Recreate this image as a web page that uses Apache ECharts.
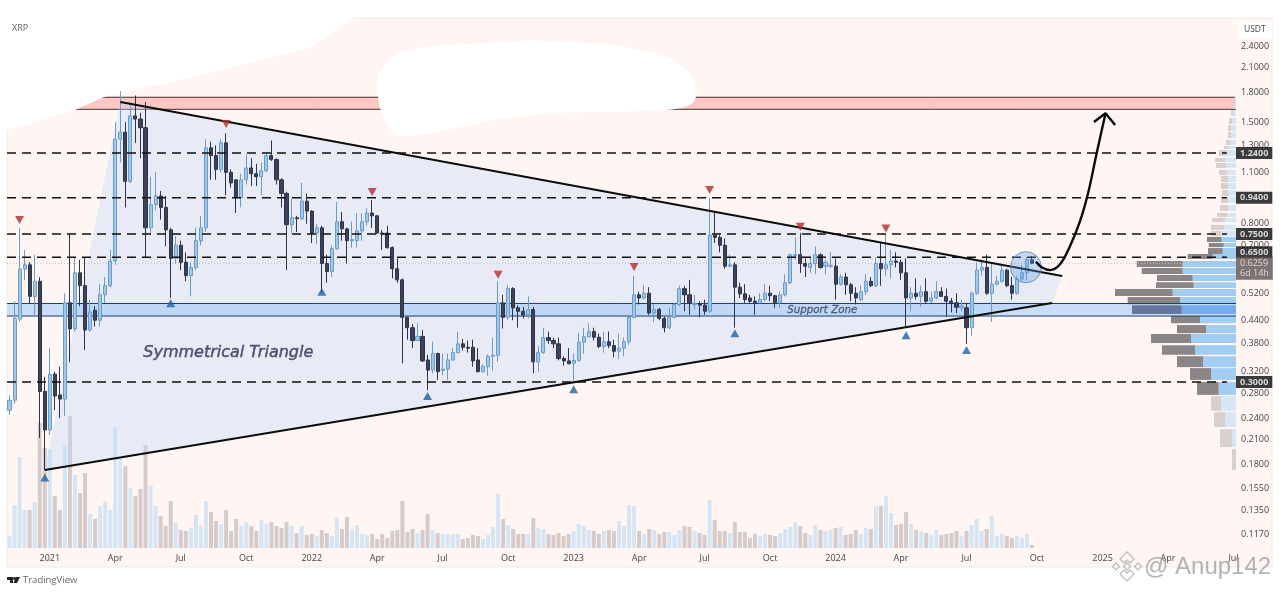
<!DOCTYPE html>
<html><head><meta charset="utf-8">
<style>html,body{margin:0;padding:0;background:#fff}#c{width:1280px;height:592px}</style>
<script src="https://cdn.jsdelivr.net/npm/echarts@6/dist/echarts.min.js"></script>
</head><body><div id="c"></div>
<script>
const opens=[.252,.268,.443,.604,.62,.51,.56,.283,.223,.315,
.277,.27,.49,.417,.59,.545,.414,.468,.44,.515,
.545,.635,1.35,1.41,1.04,1.56,1.53,1.45,.78,.90,
.95,.885,.77,.645,.7,.63,.58,.61,.72,.78,
1.28,1.22,1.12,1.32,1.1,1.05,.94,1.05,1.13,1.09,
1.07,1.11,1.22,1.19,1.05,.965,.795,.83,.825,.92,
.865,.755,.78,.625,.595,.685,.81,.775,.72,.72,
.765,.81,.855,.84,.755,.755,.69,.605,.565,.448,
.42,.388,.398,.344,.323,.358,.322,.325,.344,.36,
.38,.372,.372,.344,.32,.33,.352,.354,.49,.448,
.535,.475,.465,.455,.47,.34,.36,.395,.388,.38,
.347,.342,.337,.343,.384,.397,.41,.396,.374,.385,
.376,.363,.37,.385,.448,.515,.505,.52,.46,.47,
.445,.42,.448,.485,.535,.515,.485,.488,.483,.465,
.745,.735,.7,.615,.62,.54,.518,.505,.495,.49,
.5,.52,.512,.49,.515,.555,.655,.66,.625,.61,
.625,.66,.615,.615,.615,.55,.575,.548,.52,.5,
.525,.56,.545,.625,.605,.62,.635,.63,.59,.505,
.52,.51,.525,.495,.505,.525,.51,.495,.49,.475,
.475,.42,.52,.6,.61,.52,.55,.56,.6,.545,
.52,.568,.59,.64];
const closes=[.268,.445,.604,.62,.51,.56,.283,.223,.315,.275,
.27,.49,.417,.59,.545,.414,.463,.44,.515,.545,
.635,1.35,1.41,1.04,1.56,1.53,1.45,.78,.90,.95,
.885,.77,.645,.7,.63,.58,.61,.72,.78,1.28,
1.22,1.12,1.32,1.1,1.03,.94,1.05,1.13,1.09,1.07,
1.11,1.22,1.19,1.05,.965,.795,.83,.825,.92,.865,
.755,.78,.625,.595,.685,.81,.775,.72,.725,.765,
.81,.855,.84,.755,.75,.69,.605,.565,.448,.42,
.388,.398,.342,.323,.358,.32,.325,.344,.36,.38,
.372,.37,.342,.32,.33,.352,.354,.49,.448,.535,
.475,.465,.455,.47,.34,.36,.395,.388,.38,.347,
.342,.336,.343,.384,.397,.41,.396,.374,.385,.376,
.363,.37,.385,.448,.515,.505,.52,.46,.47,.445,
.42,.448,.485,.535,.515,.49,.488,.483,.465,.745,
.735,.70,.615,.62,.54,.518,.50,.495,.49,.50,
.52,.512,.49,.515,.555,.66,.66,.625,.615,.625,
.66,.61,.63,.618,.55,.575,.548,.52,.505,.525,
.56,.545,.625,.605,.62,.635,.63,.59,.505,.52,
.51,.525,.495,.505,.525,.51,.495,.49,.477,.48,
.42,.52,.6,.61,.52,.55,.56,.6,.545,.52,
.568,.59,.64,.626];
const lows=[.245,.262,.435,.564,.487,.45,.212,.174,.216,.252,
.24,.243,.339,.41,.48,.366,.41,.423,.423,.49,
.54,.62,1.17,.885,1.03,1.32,1.2,.65,.75,.87,
.82,.695,.505,.625,.6,.56,.51,.6,.7,.76,
1.05,1.05,1.1,.955,1,.855,.885,1.02,1.01,1.01,
.955,1.1,1.18,1.02,.885,.6,.755,.76,.82,.8,
.71,.705,.522,.555,.575,.68,.72,.625,.69,.69,
.72,.79,.78,.75,.68,.685,.57,.555,.337,.39,
.37,.387,.34,.285,.317,.304,.313,.304,.342,.358,
.365,.36,.33,.318,.318,.312,.322,.34,.418,.44,
.44,.42,.445,.445,.317,.32,.357,.38,.37,.343,
.332,.335,.302,.34,.357,.395,.388,.37,.36,.37,
.35,.346,.352,.378,.445,.485,.5,.455,.435,.44,
.408,.416,.445,.48,.465,.455,.47,.448,.455,.46,
.71,.67,.605,.61,.42,.505,.49,.49,.455,.488,
.495,.495,.475,.475,.51,.55,.64,.59,.575,.59,
.585,.605,.585,.607,.5,.545,.515,.495,.485,.495,
.515,.54,.54,.545,.58,.57,.61,.565,.42,.465,
.5,.478,.49,.49,.5,.508,.45,.462,.46,.465,
.38,.4,.515,.58,.515,.435,.545,.555,.54,.5,
.515,.56,.565,.622];
const highs=[.276,.495,.78,.68,.63,.66,.574,.31,.37,.32,
.33,.52,.75,.65,.64,.65,.5,.48,.55,.575,
.68,1.5,1.82,1.5,1.68,1.77,1.59,1.7,1.07,1.1,
.98,.95,.78,.74,.72,.67,.63,.78,.84,1.35,
1.33,1.3,1.35,1.4,1.12,1.05,1.09,1.23,1.2,1.16,
1.17,1.25,1.34,1.2,1.06,.975,.935,.84,1.03,.965,
.87,.8,.79,.66,.7,.915,.86,.78,.81,.855,
.855,.88,.926,.845,.77,.79,.695,.645,.57,.45,
.43,.432,.414,.355,.385,.36,.358,.358,.37,.41,
.392,.388,.39,.37,.335,.356,.395,.56,.515,.548,
.54,.482,.478,.51,.478,.375,.42,.41,.395,.395,
.352,.37,.358,.407,.42,.432,.42,.405,.41,.41,
.39,.405,.395,.45,.58,.525,.548,.54,.485,.475,
.45,.475,.49,.545,.545,.565,.515,.495,.5,.94,
.86,.745,.73,.66,.63,.555,.55,.515,.51,.52,
.55,.545,.515,.525,.585,.665,.735,.755,.645,.65,
.695,.665,.64,.67,.645,.585,.59,.555,.54,.545,
.585,.575,.65,.71,.75,.68,.67,.64,.645,.54,
.57,.545,.57,.525,.56,.54,.535,.505,.52,.5,
.49,.525,.63,.64,.66,.63,.58,.62,.605,.575,
.58,.62,.65,.655];
const volumes=[12,43,91,38,38,46,125,100,99,52,
38,103,132,73,55,75,34,29,42,46,
38,121,89,82,60,52,59,103,63,42,
32,22,47,25,18,17,20,33,22,47,
36,27,24,38,17,29,22,26,22,17,
28,24,26,22,20,26,22,15,22,13,
14,12,18,15,12,30,19,31,19,23,
14,13,14,9,14,10,17,18,47,16,
19,15,18,34,18,15,14,14,14,14,
9,10,13,12,9,13,21,54,29,23,
19,14,14,14,30,20,19,14,13,15,
12,14,17,24,22,18,17,14,17,18,
17,27,22,43,42,17,14,19,18,14,
16,16,13,18,22,21,17,15,13,48,
28,17,17,15,26,16,16,10,14,12,
14,13,12,15,19,21,26,22,15,13,
23,18,17,18,20,21,13,14,18,14,
20,19,42,42,52,35,23,24,36,24,
18,17,15,13,18,13,14,15,17,12,
17,23,29,17,19,32,12,14,12,10,
12,10,14,3];
const weekCount=244;
const categories=[];
for(let i=0;i<weekCount;i++){const d=new Date(Date.UTC(2020,10,9+7*i));categories.push(d.toISOString().slice(0,10));}
const tickWeeks=[8,21,34,47,60,73,86,99,112,125,138,151,164,177,190,204,217,230,243];
const tickLabels=['2021','Apr','Jul','Oct','2022','Apr','Jul','Oct','2023','Apr','Jul','Oct','2024','Apr','Jul','Oct','2025','Apr','Jul'];
const priceTicks=[2.4,2.1,1.8,1.5,1.3,1.1,.8,.7,.52,.44,.38,.32,.28,.24,.21,.18,.155,.135,.117];
const levelPrices=[1.24,.94,.75,.65,.30];
const lastPrice=.6259;
const bandPrices=[1.625,1.751];
const supportPrices=[.4515,.488];
const triangleWeeks=[22,209,207,7];
const trianglePrices=[1.70,.5786,.4894,.174];
const markerDownWeeks=[2,43,72,97,124,139,157,174];
const markerDownPrices=[.818,1.484,.974,.583,.612,.985,.785,.777];
const markerUpWeeks=[7,32,62,83,112,144,178,190];
const markerUpPrices=[.166,.489,.525,.275,.287,.406,.401,.366];
const curveWeeks=[203.8,204.9,206.6,208.6,210.5,212.5,214.2,215.9,217.6];
const curvePrices=[.632,.611,.600,.623,.694,.81,.975,1.25,1.585];
const headWeeks=[215.3,217.6,219.5];
const headPrices=[1.502,1.585,1.474];
const circleWeek=201.8, circlePrice=.611;
const profileLow=[1.69,1.628,1.559,1.484,1.42,1.36,1.303,1.271,1.217,1.172,1.13,1.082,1.036,.992,.95,.91,.866,.834,.808,.769,.741,.714,.692,.663,.643,.612,.586,.561,.537,.511,.486,.457,.432,.406,.382,.355,.329,.304,.277,.251,.227,.2005,.174];
const profileHigh=[1.765,1.679,1.618,1.54,1.474,1.412,1.344,1.295,1.263,1.202,1.165,1.116,1.075,1.03,.986,.944,.898,.855,.829,.794,.765,.737,.71,.688,.663,.635,.608,.582,.557,.534,.508,.483,.4515,.427,.404,.377,.352,.327,.30,.275,.249,.224,.198];
const profileBlue=[1,1.5,3,4,5,5,6,7,10,11,10,9,8,8,8,8,8,9,11,12,15,14.3,12.3,13.3,23.3,53.3,53.3,43.3,42.3,63.3,56,54.3,36,30,45,41,33,25,17.3,15,11,4,0];
const profileGray=[.5,1,2,3,3,3,4,5,7,10,10,8,7,7,6,7,8,10,13,13,10,14.7,15,14.7,25,46,41,35.7,37.7,57.7,52.3,49.7,29,29,40,33,26,21,21.7,10,11,12,4];
const valueAreaLow=.277, valueAreaHigh=.741;
const lastWeekPos=weekCount-0.5;

function hBand(api,lo,hi){
  const a=api.coord([-0.5,hi]),b=api.coord([lastWeekPos,lo]);
  return {x:a[0],y:a[1],width:b[0]-a[0],height:b[1]-a[1]};
}
function bandSeries(lo,hi,fill,line,z,mode){
  return {type:'custom',xAxisIndex:1,yAxisIndex:0,z,silent:true,data:[[0,lo]],
    renderItem(p,api){
      const r=hBand(api,lo,hi);const ch=[];
      if(mode!=='lines')ch.push({type:'rect',shape:r,style:{fill}});
      if(mode!=='fill')[r.y,r.y+r.height].forEach(y=>ch.push({type:'line',shape:{x1:r.x,y1:y,x2:r.x+r.width,y2:y},style:{stroke:line,lineWidth:1}}));
      return {type:'group',children:ch};
    }};
}
const txt='#454545';
const font='"Open Sans","Noto Sans",sans-serif';
const option={
  animation:false,
  backgroundColor:'#fff',
  grid:{left:7,right:44,top:18,bottom:44,containLabel:false},
  xAxis:[
   {type:'category',data:categories,boundaryGap:true,axisLine:{show:false},axisTick:{show:false},splitLine:{show:false},
    axisLabel:{interval:(i)=>tickWeeks.includes(i),margin:6,fontSize:9,color:txt,fontFamily:font,hideOverlap:false,
      formatter:(v,i)=>{const k=tickWeeks.indexOf(i);return k<0?'':tickLabels[k];}}},
   {type:'value',min:-0.5,max:lastWeekPos,show:false},
   {type:'value',min:0,max:1229,inverse:true,show:false}
  ],
  yAxis:[
   {type:'log',logBase:10,position:'right',min:.1073,max:2.861,axisLine:{show:false},axisTick:{show:false},splitLine:{show:false},minorTick:{show:false},
    axisLabel:{customValues:priceTicks,margin:5,fontSize:9,color:txt,fontFamily:font,formatter:(v)=>Number(v).toFixed(4)}},
   {type:'value',min:0,max:530,show:false}
  ],
  graphic:[
   {type:'rect',z:-1,shape:{x:7,y:18,width:1265,height:549},style:{fill:'#fff6f4',stroke:'#f1ebea',lineWidth:1}},
   {type:'polygon',z:1,shape:{points:[[0,0],[353,0],[353,18],[310,48],[290,53],[200,75],[104,97],[75,110],[7,130],[0,130]]},style:{fill:'#fff'}},
   {type:'polygon',z:1,shape:{smooth:0.4,points:[[380,72],[402,52],[470,44],[550,41],[640,50],[685,68],[696,88],[690,105],[640,111],[560,113],[500,119],[440,131],[400,135],[385,120],[378,95]]},style:{fill:'#fff'}},
   {type:'text',z:20,left:12,top:24,style:{text:'XRP',fontSize:9,fill:'#666',fontFamily:font}},
   {type:'rect',z:20,shape:{x:1239,y:22,width:33,height:16},style:{fill:'#fff'}},
   {type:'text',z:21,left:1244,top:25,style:{text:'USDT',fontSize:8.5,fill:txt,fontFamily:font}},
   {type:'text',z:20,left:143,top:345,style:{text:'Symmetrical Triangle',fontSize:16,fontStyle:'italic',fill:'#4f5570',stroke:'#4f5570',lineWidth:0.5,fontFamily:'"DejaVu Sans"'}},
   {type:'text',z:20,left:787,top:305,style:{text:'Support Zone',fontSize:10.3,fontStyle:'italic',fill:'#4f5a78',stroke:'#4f5a78',lineWidth:0.3,fontFamily:'"DejaVu Sans"'}},
   {type:'polygon',z:20,shape:{points:[[7,577],[13,577],[13,583],[10,583],[10,580],[7,580]]},style:{fill:'#222'}},
   {type:'polygon',z:20,shape:{points:[[16,577],[20,577],[17,583],[13.5,583]]},style:{fill:'#222'}},
   {type:'circle',z:20,shape:{cx:14.5,cy:578.5,r:1.4},style:{fill:'#222'}},
   {type:'text',z:20,left:23,top:575,style:{text:'TradingView',fontSize:9.5,fill:'#666',fontFamily:font}},
   {type:'text',z:30,left:1144,top:555,style:{text:'@ Anup142',fontSize:24,fill:'rgba(150,150,150,0.72)',fontFamily:'"Liberation Sans"'}},
   {type:'polygon',z:30,shape:{points:[[1127,552],[1134,559],[1130,563],[1127,560],[1124,563],[1120,559]]},style:{fill:'none',stroke:'rgba(170,170,170,.75)',lineWidth:1.3}},
   {type:'polygon',z:30,shape:{points:[[1127,581],[1134,574],[1130,570],[1127,573],[1124,570],[1120,574]]},style:{fill:'none',stroke:'rgba(170,170,170,.75)',lineWidth:1.3}},
   {type:'polygon',z:30,shape:{points:[[1127,563],[1130.5,566.5],[1127,570],[1123.5,566.5]]},style:{fill:'none',stroke:'rgba(170,170,170,.75)',lineWidth:1.3}},
   {type:'polygon',z:30,shape:{points:[[1116,563],[1119.5,566.5],[1116,570],[1112.5,566.5]]},style:{fill:'none',stroke:'rgba(170,170,170,.75)',lineWidth:1.3}},
   {type:'polygon',z:30,shape:{points:[[1138,563],[1141.5,566.5],[1138,570],[1134.5,566.5]]},style:{fill:'none',stroke:'rgba(170,170,170,.75)',lineWidth:1.3}}
  ],
  series:[
   bandSeries(bandPrices[0],bandPrices[1],'#fdc8c4','#4a2c2c',0),
   {type:'bar',name:'Volume',xAxisIndex:0,yAxisIndex:1,z:2,barWidth:4,silent:true,
    data:volumes.map((v,i)=>({value:v,itemStyle:{color:closes[i]>=opens[i]?'#d6e5f3':'#d6cbca'}}))},
   {type:'custom',name:'Triangle',xAxisIndex:1,yAxisIndex:0,z:3,silent:true,data:triangleWeeks.map((w,i)=>[w,trianglePrices[i]]),
    renderItem(p,api){
      if(p.dataIndex!==0)return null;
      const pts=triangleWeeks.map((w,i)=>api.coord([w,trianglePrices[i]]));
      return {type:'polygon',shape:{points:pts},style:{fill:'rgba(188,214,250,0.34)'}};
    }},
   bandSeries(supportPrices[0],supportPrices[1],'rgba(157,200,247,0.55)','#1f3a6b',3.1,'fill'),
   {type:'custom',name:'Volume profile',xAxisIndex:2,yAxisIndex:0,z:3.2,silent:true,data:profileLow.map((l,i)=>[profileBlue[i],l]),
    renderItem(p,api){
      const i=p.dataIndex,lo=profileLow[i],hi=profileHigh[i],b=profileBlue[i],g=profileGray[i];
      const va=lo>=valueAreaLow&&hi<=valueAreaHigh, inZone=lo>=supportPrices[0]-.006&&hi<=supportPrices[1]+.006;
      const cb=inZone?'#75abee':va?'#a2cdf2':'#d6e6f5', cg=inZone?'#64789f':va?'#8b8587':'#d9cfcf';
      const top=api.coord([0,hi]),bot=api.coord([b,lo]),mid=api.coord([b+g,lo]);
      return {type:'group',children:[
        {type:'rect',shape:{x:bot[0],y:top[1],width:top[0]-bot[0],height:bot[1]-top[1]},style:{fill:cb}},
        {type:'rect',shape:{x:mid[0],y:top[1],width:bot[0]-mid[0],height:bot[1]-top[1]},style:{fill:cg}}
      ]};
    }},
   bandSeries(supportPrices[0],supportPrices[1],'none','#1f3a6b',4,'lines'),
   {type:'custom',name:'Last price',xAxisIndex:1,yAxisIndex:0,z:4,silent:true,data:[[0,lastPrice]],
    renderItem(p,api){const a=api.coord([-0.5,lastPrice]),b=api.coord([lastWeekPos,lastPrice]);
      return {type:'line',shape:{x1:a[0],y1:a[1],x2:b[0],y2:b[1]},style:{stroke:'#c4bfbf',lineWidth:1,lineDash:[1,2]}};}},
   {type:'candlestick',name:'XRP',xAxisIndex:0,yAxisIndex:0,z:5,barWidth:3.6,silent:true,
    data:opens.map((o,i)=>[o,closes[i],lows[i],highs[i]]),
    itemStyle:{color:'#a0c8ea',color0:'#3d4258',borderColor:'#6a9cc8',borderColor0:'#30344a',borderWidth:1}},
   {type:'custom',name:'Levels',xAxisIndex:1,yAxisIndex:0,z:6,silent:true,data:levelPrices.map(v=>[0,v]),
    renderItem(p,api){const v=levelPrices[p.dataIndex],a=api.coord([-0.5,v]),b=api.coord([241.7,v]);
      return {type:'line',shape:{x1:a[0],y1:a[1],x2:b[0],y2:b[1]},style:{stroke:'#111',lineWidth:1.5,lineDash:[9,6]}};}},
   {type:'custom',name:'Trend lines',xAxisIndex:1,yAxisIndex:0,z:7,silent:true,data:[[0,1]],
    renderItem(p,api){
      const q=triangleWeeks.map((w,i)=>api.coord([w,trianglePrices[i]]));
      const st={stroke:'#0c0c0c',lineWidth:1.9};
      return {type:'group',children:[
        {type:'line',shape:{x1:q[0][0],y1:q[0][1],x2:q[1][0],y2:q[1][1]},style:st},
        {type:'line',shape:{x1:q[3][0],y1:q[3][1],x2:q[2][0],y2:q[2][1]},style:st}]};
    }},
   {type:'scatter',name:'Highs',xAxisIndex:0,yAxisIndex:0,z:7,silent:true,symbol:'triangle',symbolSize:[9,8],symbolRotate:180,
    itemStyle:{color:'#b02a32'},data:markerDownWeeks.map((w,i)=>[w,markerDownPrices[i]])},
   {type:'scatter',name:'Lows',xAxisIndex:0,yAxisIndex:0,z:7,silent:true,symbol:'triangle',symbolSize:[9,8],
    itemStyle:{color:'#1f62a8'},data:markerUpWeeks.map((w,i)=>[w,markerUpPrices[i]])},
   {type:'scatter',name:'Circle',xAxisIndex:1,yAxisIndex:0,z:8,silent:true,symbol:'circle',symbolSize:31,
    itemStyle:{color:'rgba(95,155,225,0.42)',borderColor:'#4d86bf',borderWidth:1},data:[[circleWeek,circlePrice]]},
   {type:'line',name:'Projection',xAxisIndex:1,yAxisIndex:0,z:9,silent:true,smooth:0.35,showSymbol:false,
    lineStyle:{color:'#0a0a0a',width:2.4},data:curveWeeks.map((w,i)=>[w,curvePrices[i]])},
   {type:'line',name:'Arrow head',xAxisIndex:1,yAxisIndex:0,z:9,silent:true,showSymbol:false,
    lineStyle:{color:'#0a0a0a',width:2.4},data:headWeeks.map((w,i)=>[w,headPrices[i]])},
   {type:'scatter',name:'Price boxes',xAxisIndex:1,yAxisIndex:0,z:12,silent:true,symbolSize:0,
    data:levelPrices.map(v=>({value:[lastWeekPos,v],label:{offset:v===.65?[0,-5]:[0,0]}})),
    label:{show:true,position:'right',distance:0,formatter:(p)=>p.value[1].toFixed(4),backgroundColor:'#0b0b0b',color:'#fff',fontSize:9,fontWeight:'bold',fontFamily:font,padding:[1.5,4,1.5,4]}},
   {type:'scatter',name:'Last box',xAxisIndex:1,yAxisIndex:0,z:13,silent:true,symbolSize:0,
    data:[[lastWeekPos,lastPrice]],
    label:{show:true,position:'right',distance:0,offset:[0,5],formatter:()=>lastPrice.toFixed(4)+'\n6d 14h',lineHeight:10.5,backgroundColor:'#5d5253',color:'#f3eeee',fontSize:9,fontFamily:font,padding:[1,4,1,4]}}
  ]
};
const chart=echarts.init(document.getElementById('c'),null,{renderer:'canvas',width:1280,height:592});
chart.setOption(option);
</script></body></html>
